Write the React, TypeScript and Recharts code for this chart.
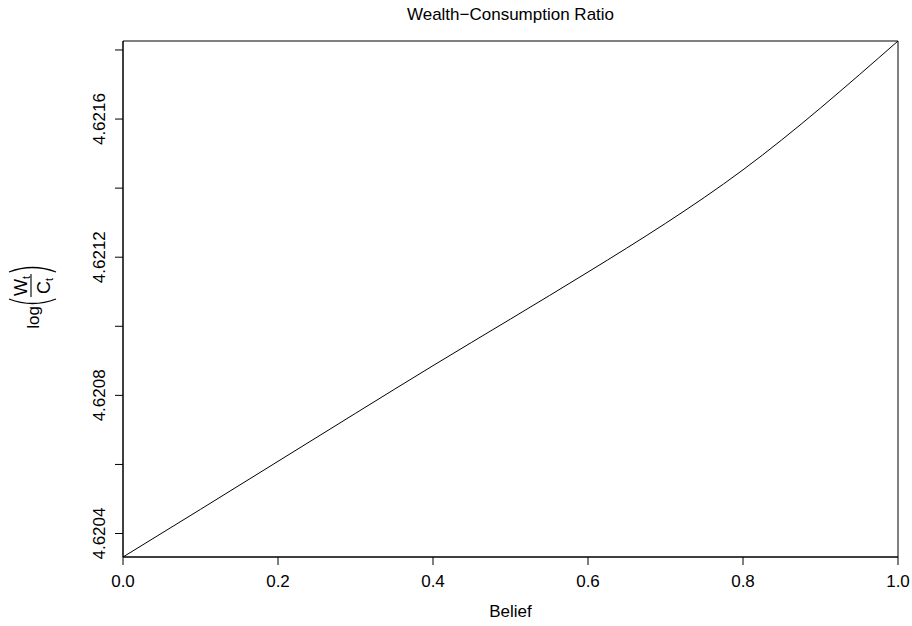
import React from 'react';
import { LineChart, Line, XAxis, YAxis, Label, ReferenceArea } from 'recharts';

const beliefs = [0, 0.1, 0.2, 0.3, 0.4, 0.5, 0.6, 0.7, 0.8, 0.9, 1.0];
const logWC = [4.620332, 4.62047, 4.620609, 4.620748, 4.620886, 4.621021, 4.621157, 4.621298, 4.621453, 4.621632, 4.621826];
const xTicks = [0, 0.2, 0.4, 0.6, 0.8, 1.0];
const yTicks = [4.6204, 4.6206, 4.6208, 4.621, 4.6212, 4.6214, 4.6216, 4.6218];
const yLabeled = ['4.6204', '4.6208', '4.6212', '4.6216'];
const yDomain = [4.620332, 4.621826];
const titleText = 'Wealth\u2212Consumption Ratio';
const xLabelText = 'Belief';

const data = beliefs.map((b, i) => ({ belief: b, value: logWC[i] }));

const FONT = '"Liberation Sans", Arial, Helvetica, sans-serif';
const FS = 17;

const YTick = (props: any) => {
  const { x, y, payload } = props;
  const s = Number(payload.value).toFixed(4);
  if (!yLabeled.includes(s)) return null;
  return (
    <text x={x} y={y} transform={`rotate(-90, ${x}, ${y})`} textAnchor="middle" fontFamily={FONT} fontSize={FS} fill="#000">
      {s}
    </text>
  );
};

const YLabel = (props: any) => {
  const cx = 31;
  const cy = 297;
  return (
    <g transform={`translate(${cx}, ${cy}) rotate(-90)`} fontFamily={FONT} fill="#000">
      <text x={-9} y={8} textAnchor="end" fontSize={FS}>log</text>
      <path d="M -2 -22 Q -11 1.5 -2 25" fill="none" stroke="#000" strokeWidth={1.3} />
      <text x={1} y={-4} fontSize={18}>W</text>
      <text x={18} y={-1} fontSize={11}>t</text>
      <line x1={0} y1={0} x2={23} y2={0} stroke="#000" strokeWidth={1.1} />
      <text x={3} y={19} fontSize={18}>C</text>
      <text x={16} y={22} fontSize={11}>t</text>
      <path d="M 25 -22 Q 34 1.5 25 25" fill="none" stroke="#000" strokeWidth={1.3} />
    </g>
  );
};

const XLabel = (props: any) => {
  const vb = props.viewBox || {};
  const cx = vb.x + vb.width / 2;
  return (
    <g fontFamily={FONT} fontSize={FS} fill="#000">
      <text x={cx} y={617} textAnchor="middle">{xLabelText}</text>
      <text x={cx} y={20} textAnchor="middle">{titleText}</text>
    </g>
  );
};

export default function App() {
  return (
    <div style={{ position: 'fixed', left: 0, top: 0, width: 912, height: 626, background: '#fff' }}>
      <LineChart width={912} height={626} data={data} margin={{ top: 41, right: 14, bottom: 29, left: 63 }}>
        <XAxis
          dataKey="belief"
          type="number"
          domain={[0, 1]}
          ticks={xTicks}
          tickFormatter={(v: number) => v.toFixed(1)}
          tickSize={8}
          tickMargin={10}
          height={40}
          axisLine={{ stroke: '#000' }}
          tickLine={{ stroke: '#000' }}
          tick={{ fill: '#000', fontSize: FS, fontFamily: FONT }}
          interval={0}
        >
          <Label content={XLabel} />
        </XAxis>
        <YAxis
          type="number"
          domain={yDomain}
          allowDataOverflow
          ticks={yTicks}
          tick={<YTick />}
          tickSize={8}
          tickMargin={10}
          width={60}
          axisLine={{ stroke: '#000' }}
          tickLine={{ stroke: '#000' }}
          interval={0}
        >
          <Label content={YLabel} />
        </YAxis>
        <ReferenceArea x1={0} x2={1} y1={yDomain[0]} y2={yDomain[1]} fill="none" fillOpacity={0} stroke="#000" strokeWidth={1} strokeOpacity={1} />
        <Line type="natural" dataKey="value" stroke="#000" strokeWidth={1} dot={false} isAnimationActive={false} />
      </LineChart>
    </div>
  );
}
